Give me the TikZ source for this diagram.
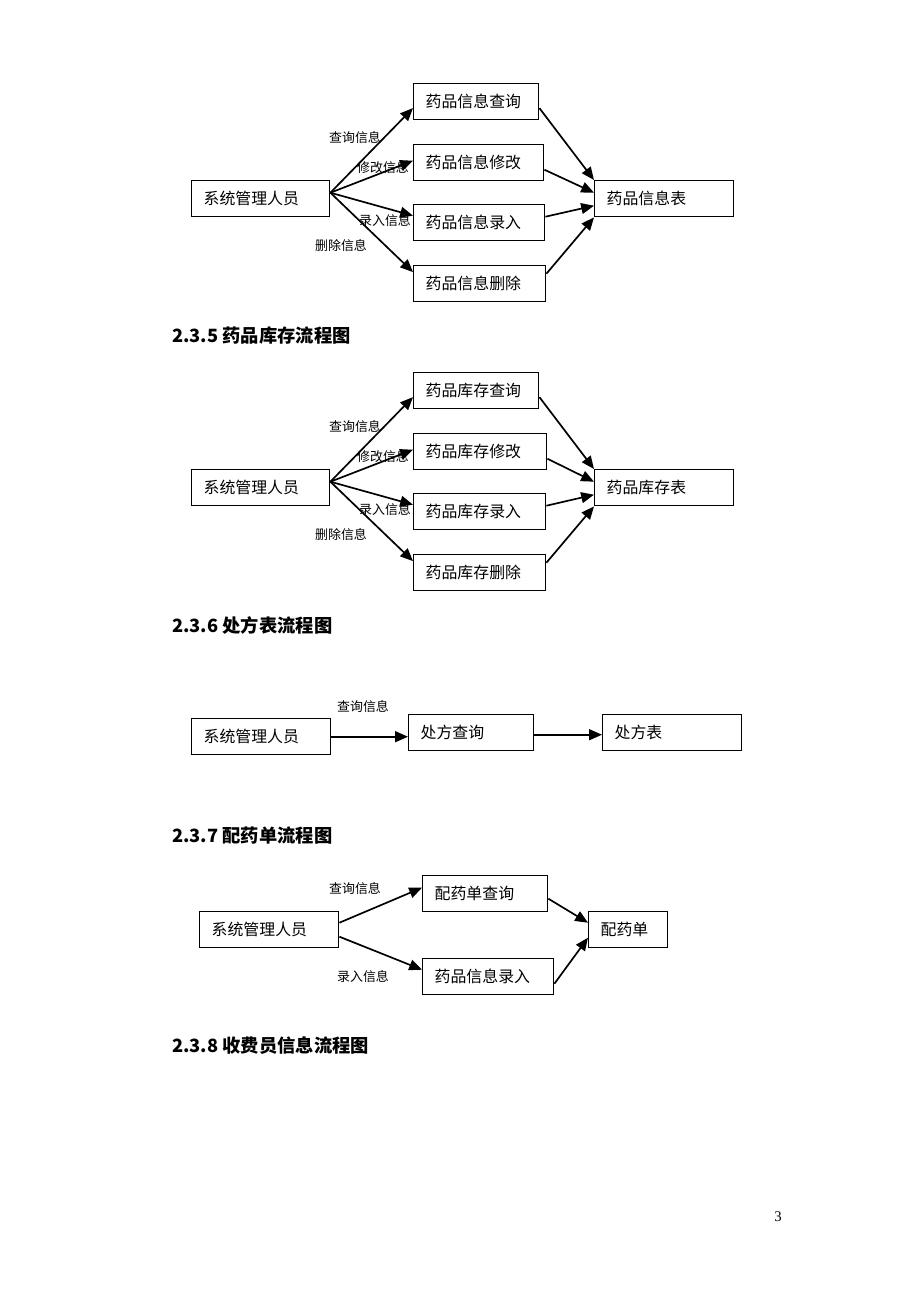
\documentclass[tikz,border=0pt]{standalone}
\usepackage{fontspec}
\setmainfont{Liberation Serif}
\newfontfamily\cjk{Noto Sans CJK SC}
\usetikzlibrary{arrows.meta}

\tikzset{
  box/.style={draw,line width=1pt,anchor=north west,minimum height=9mm,
    inner xsep=3mm,align=left,text width=#1,
    font=\cjk\fontsize{11.3pt}{13pt}\selectfont},
  lab/.style={font=\cjk\fontsize{9.2pt}{11pt}\selectfont,inner sep=0pt},
  hd/.style={anchor=west,inner sep=0pt,font=\cjk\bfseries\fontsize{13pt}{15pt}\selectfont},
  flow/.style={->,line width=1.2pt},
  >={Triangle[length=3.2mm,width=2.7mm]}
}

\begin{document}
\begin{tikzpicture}[x=0.25mm,y=-0.25mm]
  \useasboundingbox (0,0) rectangle (920,1302);

  % 药品信息
  \node[box=28.5mm] (s1) at (191,180) {系统管理人员};
  \node[box=25.25mm] (q1) at (413,83) {药品信息查询};
  \node[box=26.5mm] (m1) at (413,144) {药品信息修改};
  \node[box=26.75mm] (e1) at (413,204) {药品信息录入};
  \node[box=27mm] (d1) at (413,265) {药品信息删除};
  \node[box=28.75mm] (t1) at (594,180) {药品信息表};

  \node[lab] (lq1) at (355,138) {查询信息};
  \node[lab] (lm1) at (383,168) {修改信息};
  \node[lab] (le1) at (385,221) {录入信息};
  \node[lab] (ld1) at (341,246) {删除信息};

  \draw[flow] ([yshift=1.5mm]s1.east) -- ([yshift=-1.6mm]q1.west);
  \draw[flow] ([yshift=1.5mm]s1.east) -- ([yshift=0.5mm]m1.west);
  \draw[flow] ([yshift=1.5mm]s1.east) -- ([yshift=1.75mm]e1.west);
  \draw[flow] ([yshift=1.5mm]s1.east) -- ([yshift=2.9mm]d1.west);
  \draw[flow] ([yshift=-1.6mm]q1.east) -- (t1.north west);
  \draw[flow] ([yshift=-1.75mm]m1.east) -- ([yshift=1.5mm]t1.west);
  \draw[flow] ([yshift=1.5mm]e1.east) -- ([yshift=-1.75mm]t1.west);
  \draw[flow] ([yshift=2.5mm]d1.east) -- (t1.south west);

  \node[hd] (h5) at (172,336) {2.3.5 药品库存流程图};

  % 药品库存
  \begin{scope}[yshift=-72.25mm]
  \node[box=28.5mm] (s2) at (191,180) {系统管理人员};
  \node[box=25.25mm] (q2) at (413,83) {药品库存查询};
  \node[box=27.25mm] (m2) at (413,144) {药品库存修改};
  \node[box=27mm] (e2) at (413,204) {药品库存录入};
  \node[box=27mm] (d2) at (413,265) {药品库存删除};
  \node[box=28.75mm] (t2) at (594,180) {药品库存表};

  \node[lab] (lq2) at (355,138) {查询信息};
  \node[lab] (lm2) at (383,168) {修改信息};
  \node[lab] (le2) at (385,221) {录入信息};
  \node[lab] (ld2) at (341,246) {删除信息};

  \draw[flow] ([yshift=1.5mm]s2.east) -- ([yshift=-1.6mm]q2.west);
  \draw[flow] ([yshift=1.5mm]s2.east) -- ([yshift=0.5mm]m2.west);
  \draw[flow] ([yshift=1.5mm]s2.east) -- ([yshift=1.75mm]e2.west);
  \draw[flow] ([yshift=1.5mm]s2.east) -- ([yshift=2.9mm]d2.west);
  \draw[flow] ([yshift=-1.6mm]q2.east) -- (t2.north west);
  \draw[flow] ([yshift=-1.75mm]m2.east) -- ([yshift=1.5mm]t2.west);
  \draw[flow] ([yshift=1.5mm]e2.east) -- ([yshift=-1.75mm]t2.west);
  \draw[flow] ([yshift=2.5mm]d2.east) -- (t2.south west);
  \end{scope}

  \node[hd] (h6) at (172,625) {2.3.6 处方表流程图};

  % 处方表
  \node[box=28.75mm] (s3) at (191,718) {系统管理人员};
  \node[box=25.25mm] (c3) at (408,714) {处方查询};
  \node[box=28.75mm] (f3) at (602,714) {处方表};
  \node[lab] (lq3) at (363,707) {查询信息};
  \draw[flow] (s3.east) -- (s3.east -| c3.west);
  \draw[flow] ([yshift=-0.5mm]c3.east) -- ([yshift=-0.5mm]f3.west);

  \node[hd] (h7) at (172,836) {2.3.7 配药单流程图};

  % 配药单
  \node[box=28.75mm] (s4) at (199,911) {系统管理人员};
  \node[box=25.25mm] (p4) at (422,875) {配药单查询};
  \node[box=26.75mm] (r4) at (422,958) {药品信息录入};
  \node[box=13.75mm] (t4) at (588,911) {配药单};
  \node[lab] (lq4) at (355,889) {查询信息};
  \node[lab] (le4) at (363,977) {录入信息};
  \draw[flow] ([yshift=1.75mm]s4.east) -- ([yshift=1.5mm]p4.west);
  \draw[flow] ([yshift=-1.75mm]s4.east) -- ([yshift=1.75mm]r4.west);
  \draw[flow] ([yshift=-1.25mm]p4.east) -- ([yshift=1.75mm]t4.west);
  \draw[flow] ([yshift=-1.75mm]r4.east) -- ([yshift=-2mm]t4.west);

  \node[hd] (h8) at (172,1046) {2.3.8 收费员信息流程图};

  \node[font=\fontsize{10.5pt}{12pt}\selectfont] (pg) at (778,1217) {3};
\end{tikzpicture}
\end{document}
